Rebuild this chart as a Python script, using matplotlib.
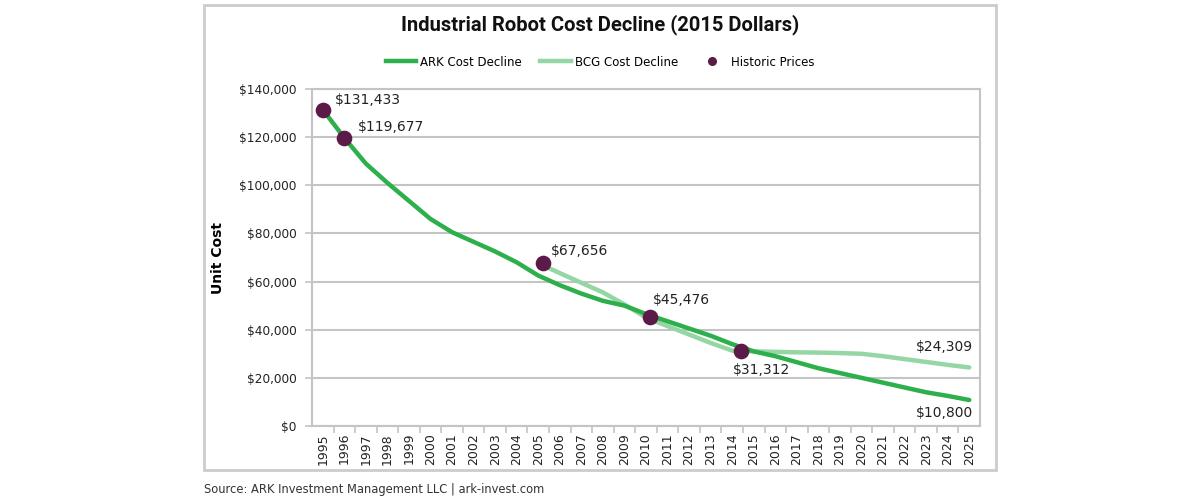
import matplotlib
matplotlib.use("Agg")
import matplotlib.pyplot as plt
from matplotlib.patches import Rectangle
from matplotlib.lines import Line2D

years = list(range(1995, 2026))
ark_cost = [131433, 119677, 109000, 101000, 93500, 86000, 80500, 76500, 72500, 68000,
            62500, 58500, 55000, 52000, 50000, 46500, 43500, 40500, 37500, 34000,
            31000, 29000, 26500, 24000, 22000, 20000, 18000, 16000, 14000, 12500, 10800]
bcg_years = list(range(2005, 2026))
bcg_cost = [67656, 63500, 59500, 55500, 50500, 45000, 41500, 38000, 34500, 31312,
            31000, 30800, 30600, 30500, 30300, 30000, 29000, 27800, 26600, 25400, 24309]
hist_years = [1995, 1996, 2005.2, 2010.2, 2014.4]
hist_prices = [131433, 119677, 67656, 45476, 31312]
hist_labels = ["$131,433", "$119,677", "$67,656", "$45,476", "$31,312"]
end_labels = ["$24,309", "$10,800"]
yticks = [0, 20000, 40000, 60000, 80000, 100000, 120000, 140000]

ARK_C = "#2db04b"
BCG_C = "#94d6a4"
DOT_C = "#5b1a48"
GRID_C = "#c4c4c4"

fig = plt.figure(figsize=(12, 5), dpi=100)
fig.patches.append(Rectangle((0.17, 0.06), 0.66, 0.93, transform=fig.transFigure,
                             fill=False, edgecolor="#cccccc", linewidth=2))
ax = fig.add_axes([0.26, 0.148, 0.5567, 0.674])

ax.plot(bcg_years, bcg_cost, color=BCG_C, lw=3.2, solid_capstyle="round", zorder=3)
ax.plot(years, ark_cost, color=ARK_C, lw=3.2, solid_capstyle="round", zorder=4)
ax.scatter(hist_years, hist_prices, s=105, color=DOT_C, zorder=5)

ax.set_xlim(1994.5, 2025.5)
ax.set_ylim(0, 140000)
ax.set_yticks(yticks)
ax.set_yticklabels(["${:,}".format(v) for v in yticks], fontsize=8.7, color="#222222")
ax.set_xticks(years)
ax.set_xticklabels([str(y) for y in years], rotation=90, fontsize=9, color="#222222")
ax.set_xticks([y + 0.5 for y in years[:-1]], minor=True)
ax.tick_params(axis="x", which="major", length=0, pad=5)
ax.tick_params(axis="x", which="minor", length=5, color=GRID_C, width=1.2)
ax.tick_params(axis="y", length=5, color=GRID_C, width=1.2, pad=6)
ax.grid(axis="y", color=GRID_C, lw=1.5)
ax.set_axisbelow(True)
for s in ax.spines.values():
    s.set_color(GRID_C)
    s.set_linewidth(1.5)

ax.set_ylabel("Unit Cost", fontsize=10, fontweight="bold")
ax.yaxis.set_label_coords(-0.13, 0.5)

offsets = [(9, 7), (10, 8), (6, 9), (2, 12), (-6, -14)]
for x, y, lab, off in zip(hist_years, hist_prices, hist_labels, offsets):
    ax.annotate(lab, (x, y), xytext=off, textcoords="offset points",
                fontsize=10, color="#222222", ha="left", va="center")
ax.annotate(end_labels[0], (years[-1], bcg_cost[-1]), xytext=(3, 15), textcoords="offset points",
            fontsize=10, color="#222222", ha="right", va="center")
ax.annotate(end_labels[1], (years[-1], ark_cost[-1]), xytext=(3, -9), textcoords="offset points",
            fontsize=10, color="#222222", ha="right", va="center")

fig.text(0.5, 0.95, "Industrial Robot Cost Decline (2015 Dollars)", ha="center", va="center",
         fontsize=14.5, fontweight="bold", family=["Liberation Sans Narrow", "Roboto", "DejaVu Sans"],
         color="#111111")

handles = [Line2D([], [], color=ARK_C, lw=3.2),
           Line2D([], [], color=BCG_C, lw=3.2),
           Line2D([], [], color=DOT_C, marker="o", ls="none", markersize=5.5)]
fig.legend(handles, ["ARK Cost Decline", "BCG Cost Decline", "Historic Prices"],
           loc="center", bbox_to_anchor=(0.5, 0.876), ncol=3, frameon=False,
           fontsize=8.5, handlelength=2.6, columnspacing=1.6, handletextpad=0.3)

fig.text(0.17, 0.02, "Source: ARK Investment Management LLC | ark-invest.com",
         fontsize=8.3, color="#333333", ha="left", va="center")

fig.savefig("out.png", dpi=100, facecolor="white")
